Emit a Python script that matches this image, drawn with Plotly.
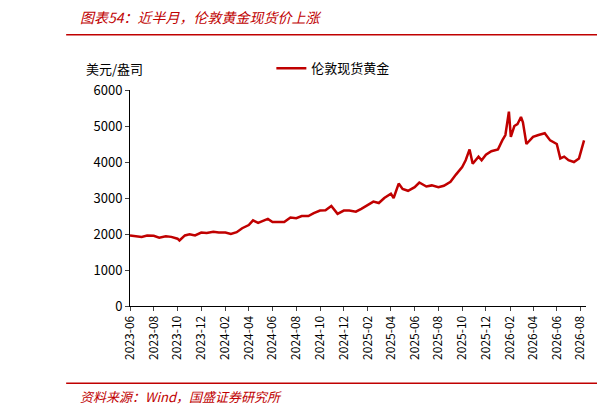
import plotly.graph_objects as go

# semi-monthly readings of London spot gold (USD/oz)
dates = [
    "2023-06-01", "2023-06-15", "2023-07-01", "2023-07-15", "2023-08-01", "2023-08-15",
    "2023-09-01", "2023-09-15", "2023-10-01", "2023-10-06", "2023-10-20", "2023-11-01",
    "2023-11-15", "2023-12-01", "2023-12-15", "2024-01-01", "2024-01-15", "2024-02-01",
    "2024-02-15", "2024-03-01", "2024-03-15", "2024-04-01", "2024-04-12", "2024-04-25",
    "2024-05-10", "2024-05-20", "2024-06-01", "2024-06-15", "2024-07-01", "2024-07-17",
    "2024-08-01", "2024-08-15", "2024-09-01", "2024-09-15", "2024-10-01", "2024-10-15",
    "2024-10-30", "2024-11-15", "2024-12-01", "2024-12-15", "2025-01-01", "2025-01-15",
    "2025-02-01", "2025-02-15", "2025-03-01", "2025-03-15", "2025-04-01", "2025-04-08",
    "2025-04-21", "2025-05-01", "2025-05-15", "2025-06-01", "2025-06-13", "2025-07-01",
    "2025-07-15", "2025-08-01", "2025-08-15", "2025-09-01", "2025-09-15", "2025-10-01",
    "2025-10-10", "2025-10-20", "2025-10-28", "2025-11-12", "2025-11-20", "2025-12-01",
    "2025-12-15", "2026-01-01", "2026-01-12", "2026-01-20", "2026-01-29", "2026-02-03",
    "2026-02-12", "2026-02-20", "2026-03-01", "2026-03-06", "2026-03-15", "2026-04-01",
    "2026-04-15", "2026-05-01", "2026-05-15", "2026-06-01", "2026-06-10", "2026-06-20",
    "2026-07-01", "2026-07-15", "2026-07-28", "2026-08-05", "2026-08-10",
]
gold = [
    1960, 1940, 1920, 1960, 1950, 1900,
    1940, 1920, 1870, 1820, 1960, 1990,
    1960, 2040, 2030, 2060, 2040, 2040,
    2000, 2050, 2160, 2250, 2380, 2310,
    2370, 2420, 2330, 2330, 2330, 2460,
    2440, 2500, 2500, 2580, 2650, 2660,
    2780, 2560, 2650, 2650, 2620, 2700,
    2800, 2900, 2860, 3000, 3120, 3000,
    3400, 3250, 3200, 3300, 3430, 3320,
    3350, 3300, 3340, 3450, 3650, 3860,
    4050, 4350, 3950, 4150, 4050, 4200,
    4300, 4350, 4600, 4750, 5400, 4700,
    5000, 5050, 5250, 5100, 4500, 4700,
    4750, 4800, 4600, 4500, 4100, 4150,
    4050, 4000, 4100, 4450, 4600,
]

red = "#C00000"
font = "Noto Sans CJK SC"

fig = go.Figure()
fig.add_trace(go.Scatter(x=dates, y=gold, mode="lines", name="伦敦现货黄金",
                         line=dict(color=red, width=2.5)))

fig.update_layout(
    width=605, height=416,
    margin=dict(l=122, r=27, t=82, b=118),
    plot_bgcolor="white", paper_bgcolor="white",
    font=dict(family=font, size=13, color="black"),
    showlegend=True,
    legend=dict(x=0.31, y=1.10, xanchor="left", yanchor="middle",
                bgcolor="rgba(0,0,0,0)", font=dict(size=13)),
    xaxis=dict(range=["2023-06-01", "2026-08-15"], tickformat="%Y-%m",
               dtick="M2", tick0="2023-06-01", tickangle=-90,
               showgrid=False, showline=True, linecolor="black",
               ticks="outside", ticklen=4, tickfont=dict(size=12)),
    yaxis=dict(range=[0, 6000], dtick=1000, showgrid=False, showline=True,
               linecolor="black", ticks="outside", ticklen=4,
               tickfont=dict(size=13)),
    shapes=[
        dict(type="line", xref="paper", yref="paper", x0=-0.14, x1=1.08,
             y0=1.256, y1=1.256, line=dict(color=red, width=1.5)),
        dict(type="line", xref="paper", yref="paper", x0=-0.14, x1=1.08,
             y0=-0.358, y1=-0.358, line=dict(color=red, width=1.5)),
    ],
    annotations=[
        dict(text="<i>图表54：近半月，伦敦黄金现货价上涨</i>", xref="paper", yref="paper",
             x=-0.115, y=1.34, xanchor="left", yanchor="middle", showarrow=False,
             font=dict(color=red, size=14)),
        dict(text="美元/盎司", xref="paper", yref="paper", x=-0.10, y=1.10,
             xanchor="left", yanchor="middle", showarrow=False, font=dict(size=13)),
        dict(text="<i>资料来源：Wind，国盛证券研究所</i>", xref="paper", yref="paper",
             x=-0.115, y=-0.42, xanchor="left", yanchor="middle", showarrow=False,
             font=dict(color=red, size=13)),
    ],
)

fig.write_html("out.html")
